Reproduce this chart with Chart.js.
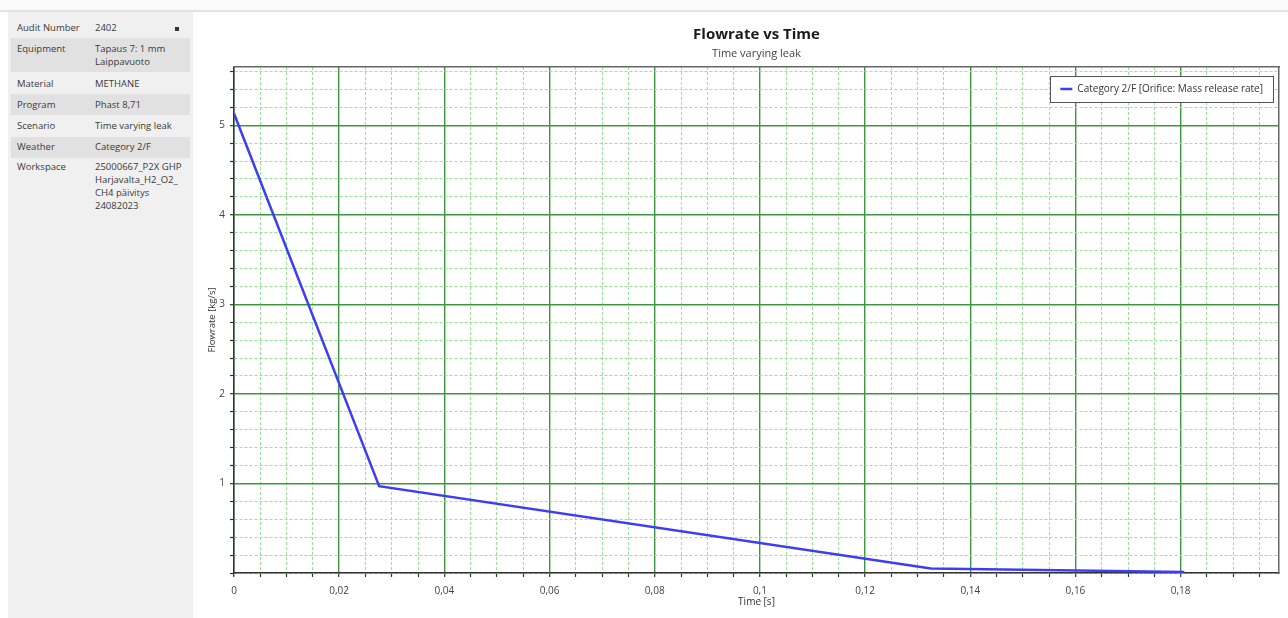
<!DOCTYPE html>
<html>
<head>
<meta charset="utf-8">
<script src="https://cdn.jsdelivr.net/npm/chart.js@4.4.1/dist/chart.umd.min.js"></script>
<style>
html,body{margin:0;padding:0;background:#fff;width:1288px;height:618px;overflow:hidden;font-family:'Open Sans',sans-serif;}
#topbar{position:absolute;left:0;top:0;width:1288px;height:12px;background:#fbfbfb;border-bottom:2px solid #e3e3e3;box-sizing:border-box;}
#panel{position:absolute;left:8px;top:12px;width:185px;height:606px;background:#f0f0f0;}
.row{position:absolute;left:3px;width:179px;font-size:9.5px;color:#3a3a3a;line-height:13px;}
.row.sh{background:#e1e1e1;}
.k{position:absolute;left:6px;top:4px;white-space:nowrap;}
.v{position:absolute;left:84px;top:4px;width:95px;white-space:nowrap;}
.x{position:absolute;left:164px;top:10px;width:4px;height:4px;background:#333;}
#wrap{position:absolute;left:195px;top:12px;width:1093px;height:606px;}
</style>
</head>
<body>
<div id="topbar"></div>
<div id="panel">
  <div class="row" style="top:5px;height:21px;"><span class="k">Audit Number</span><span class="v">2402</span><span class="x"></span></div>
  <div class="row sh" style="top:26px;height:34px;"><span class="k">Equipment</span><span class="v">Tapaus 7: 1 mm<br>Laippavuoto</span></div>
  <div class="row" style="top:60px;height:22px;"><span class="k" style="top:5px">Material</span><span class="v" style="top:5px">METHANE</span></div>
  <div class="row sh" style="top:82px;height:21px;"><span class="k">Program</span><span class="v">Phast 8,71</span></div>
  <div class="row" style="top:103px;height:22px;"><span class="k">Scenario</span><span class="v">Time varying leak</span></div>
  <div class="row sh" style="top:125px;height:21px;"><span class="k" style="top:3px">Weather</span><span class="v" style="top:3px">Category 2/F</span></div>
  <div class="row" style="top:146px;height:60px;"><span class="k" style="top:2px">Workspace</span><span class="v" style="top:2px">25000667_P2X GHP<br>Harjavalta_H2_O2_<br>CH4 päivitys<br>24082023</span></div>
</div>
<div id="wrap"><canvas id="c" width="1093" height="606"></canvas></div>
<script>
// ---- data ----
const timeS   = [0, 0.0276, 0.1325, 0.1807];
const flowKgS = [5.13, 0.97, 0.05, 0.012];
const seriesLabel = 'Category 2/F [Orifice: Mass release rate]';

const xMajorTicks = [0, 0.02, 0.04, 0.06, 0.08, 0.1, 0.12, 0.14, 0.16, 0.18];
const xTickLabels = ['0', '0,02', '0,04', '0,06', '0,08', '0,1', '0,12', '0,14', '0,16', '0,18'];
const yMajorTicks = [1, 2, 3, 4, 5];
const yTickLabels = ['1', '2', '3', '4', '5'];
const xMinorStep = 0.005;
const yMinorStep = 0.2;
const xMax = 0.1987;
const yMax = 5.65;

const chartTitle = 'Flowrate vs Time';
const chartSubtitle = 'Time varying leak';
const xTitle = 'Time [s]';
const yTitle = 'Flowrate [kg/s]';

// ---- styles ----
const FONT = "'Open Sans', sans-serif";
const MAJOR = 'rgb(62,150,62)';
const MINOR = 'rgb(150,228,150)';

function idxOf(arr, v) { return arr.findIndex(m => Math.abs(m - v) < 1e-6); }
function buildTicks(step, max) {
  const t = [];
  for (let i = 0; i * step <= max + 1e-9; i++) t.push({ value: +(i * step).toFixed(4) });
  return t;
}

const legendFrame = {
  id: 'legendFrame',
  afterLayout(chart) {
    const lg = chart.legend, ca = chart.chartArea;
    if (!lg || !lg.legendHitBoxes || !lg.legendHitBoxes.length) return;
    const pad = lg.options.labels.padding;
    const hb = lg.legendHitBoxes[0];
    const fw = hb.width + 20, fh = 26;
    const fx = ca.right - 6 - fw, fy = ca.top + 9;
    chart.$frame = { x: fx, y: fy, w: fw, h: fh };
    lg.left = fx + 10 - pad;
    lg.right = lg.left + lg.width;
    lg.top = fy + fh / 2 - hb.height / 2 - pad;
  },
  afterDraw(chart) {
    const f = chart.$frame; if (!f) return;
    const ctx = chart.ctx;
    ctx.save();
    ctx.fillStyle = '#fff';
    ctx.fillRect(f.x, f.y, f.w, f.h);
    ctx.strokeStyle = '#555';
    ctx.lineWidth = 1;
    ctx.strokeRect(Math.round(f.x) + 0.5, Math.round(f.y) + 0.5, Math.round(f.w), Math.round(f.h));
    ctx.restore();
    chart.legend.draw();
  }
};

new Chart(document.getElementById('c'), {
  type: 'line',
  data: {
    datasets: [{
      label: seriesLabel,
      data: timeS.map((t, i) => ({ x: t, y: flowKgS[i] })),
      borderColor: '#3d3df2',
      backgroundColor: '#3d3df2',
      borderWidth: 2.5,
      pointRadius: 0,
      tension: 0,
      xAxisID: 'x',
      yAxisID: 'y'
    }]
  },
  options: {
    responsive: false,
    animation: false,
    events: [],
    layout: { padding: { left: 0, right: 9, top: 0, bottom: 0 } },
    plugins: {
      title: {
        display: true, text: chartTitle, fullSize: false,
        color: '#1a1a1a', font: { family: FONT, size: 15, weight: 'bold' },
        padding: { top: 14, bottom: 2 }
      },
      subtitle: {
        display: true, text: chartSubtitle, fullSize: false,
        color: '#444', font: { family: FONT, size: 11 },
        padding: { top: 1.5, bottom: 6.3 }
      },
      legend: {
        display: true, position: 'chartArea', align: 'start',
        labels: {
          usePointStyle: true, pointStyle: 'line', pointStyleWidth: 12,
          color: '#333', font: { family: FONT, size: 10 }, padding: 10
        }
      },
      tooltip: { enabled: false }
    },
    scales: {
      x: {
        type: 'linear', position: 'bottom', min: 0, max: xMax,
        afterBuildTicks(scale) { scale.ticks = buildTicks(xMinorStep, xMax); },
        afterFit(scale) { scale.height = 45; scale.paddingLeft = 0; scale.paddingRight = 0; },
        ticks: {
          autoSkip: false, maxRotation: 0, minRotation: 0, padding: 8,
          color: '#444', font: { family: FONT, size: 10 },
          callback(v) { const i = idxOf(xMajorTicks, v); return i >= 0 ? xTickLabels[i] : ''; }
        },
        grid: {
          color: (c) => (c.tick && idxOf(xMajorTicks, c.tick.value) >= 0) ? MAJOR : MINOR,
          lineWidth: (c) => (c.tick && idxOf(xMajorTicks, c.tick.value) >= 0) ? 1.4 : 1,
          tickColor: '#333', tickLength: 4, tickWidth: 1.2
        },
        border: {
          display: true, color: '#333', width: 1.5,
          dash: (c) => (c.tick && idxOf(xMajorTicks, c.tick.value) < 0) ? [3, 2] : []
        },
        title: {
          display: true, text: xTitle, color: '#333',
          font: { family: FONT, size: 10 }, padding: { top: 0, bottom: 10 }
        }
      },
      y: {
        type: 'linear', position: 'left', min: 0, max: yMax,
        afterBuildTicks(scale) { scale.ticks = buildTicks(yMinorStep, yMax); },
        afterFit(scale) { scale.width = 39; scale.paddingTop = 0; scale.paddingBottom = 0; },
        ticks: {
          autoSkip: false, padding: 5,
          color: '#444', font: { family: FONT, size: 10 },
          callback(v) { const i = idxOf(yMajorTicks, v); return i >= 0 ? yTickLabels[i] : ''; }
        },
        grid: {
          color: (c) => (c.tick && idxOf(yMajorTicks, c.tick.value) >= 0) ? MAJOR : MINOR,
          lineWidth: (c) => (c.tick && idxOf(yMajorTicks, c.tick.value) >= 0) ? 1.4 : 1,
          tickColor: '#333', tickLength: 4, tickWidth: 1.2
        },
        border: {
          display: true, color: '#333', width: 1.5,
          dash: (c) => (c.tick && idxOf(yMajorTicks, c.tick.value) < 0) ? [3, 2] : []
        },
        title: {
          display: true, text: yTitle, color: '#333',
          font: { family: FONT, size: 9.5 }, padding: { top: 12, bottom: 0 }
        }
      },
      xTop: {
        type: 'linear', position: 'top', min: 0, max: xMax, display: true,
        grid: { display: false, drawTicks: false, tickLength: 0 }, ticks: { display: false },
        border: { display: true, color: '#666', width: 1.5 }
      },
      yRight: {
        type: 'linear', position: 'right', min: 0, max: yMax, display: true,
        grid: { display: false, drawTicks: false, tickLength: 0 }, ticks: { display: false },
        border: { display: true, color: '#666', width: 1.5 }
      }
    }
  },
  plugins: [legendFrame]
});
</script>
</body>
</html>
